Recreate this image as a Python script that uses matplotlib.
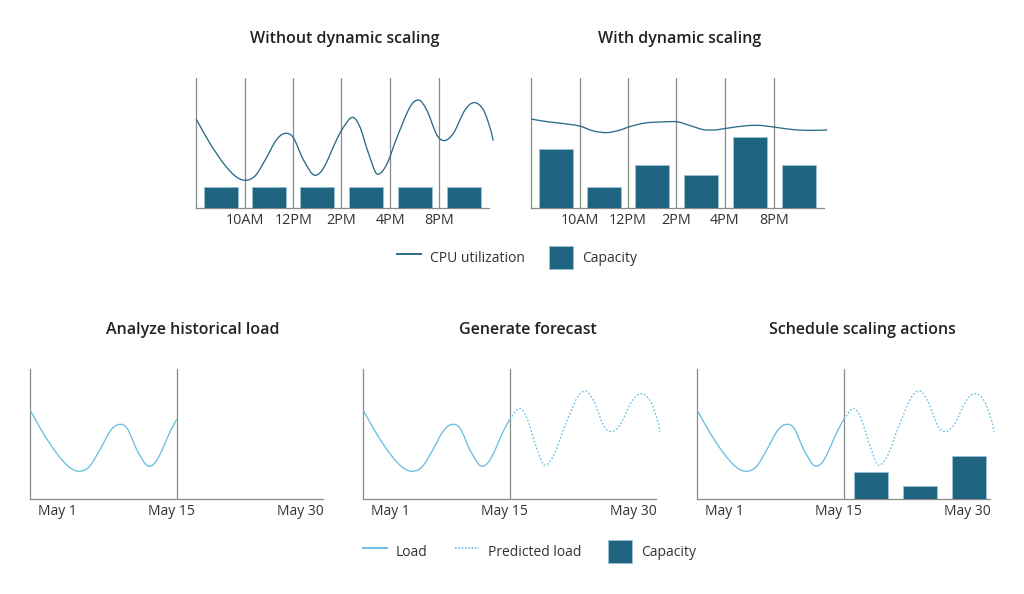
import matplotlib
matplotlib.use("Agg")
import matplotlib.pyplot as plt
from matplotlib.lines import Line2D
from matplotlib.patches import Patch, PathPatch
from matplotlib.path import Path

plt.rcParams['font.family'] = ['Open Sans', 'DejaVu Sans']

W, H = 1024, 594
NAVY = '#1f6582'
LINE_NAVY = '#2a6c88'
EDGE = '#9cc6d8'
SKY = '#6cbde2'
GRAY = '#8a8a8a'
TEXT = '#333333'

# x in time slots, y in chart units (axis height about 131)
curve_x = [0, .28, .56, .80, 1.0, 1.21, 1.42, 1.66, 1.85, 2.0, 2.21, 2.45, 2.62, 2.89, 3.02, 3.22, 3.37, 3.55,
           3.74, 3.92, 4.13, 4.41, 4.58, 4.75, 4.96, 5.11, 5.30, 5.54, 5.73, 5.92, 6.07, 6.12]
curve_y = [89, 65, 45, 32.3, 28, 32.3, 48.3, 69, 75, 70.7, 48.3, 33, 40, 68.3, 80, 91, 81.7, 55,
           34, 43.3, 70, 101.7, 108.3, 98.3, 73.3, 67.7, 75, 98.3, 105.7, 98.3, 78.3, 67.7]
flat_x = [0, .32, .67, 1.0, 1.29, 1.55, 1.8, 2.04, 2.35, 2.66, 2.97, 3.28, 3.55, 3.76, 4.03, 4.38, 4.65, 5.0,
          5.34, 5.65, 5.89, 6.11]
flat_y = [89.3, 86.7, 84.7, 82.3, 77.3, 75.7, 77.7, 81.7, 85.3, 86.3, 86.7, 82.7, 78.7, 78.3, 80, 82.3, 83, 81.3,
          79, 78, 78, 78.3]

hour_slots = [.51, 1.505, 2.495, 3.505, 4.515, 5.526]
capacity_fixed = [21, 21, 21, 21, 21, 21]
capacity_scaled = [59.7, 21, 43.3, 33.7, 71.7, 43.3]
hour_ticks = [1.01, 2.0, 2.99, 4.0, 5.01]
hour_labels = ['10AM', '12PM', '2PM', '4PM', '8PM']

day_ticks = [.56, 2.91, 5.56]
day_labels = ['May 1', 'May 15', 'May 30']
forecast_split = 3.02
sched_slots = [3.59, 4.6, 5.6]
sched_capacity = [27.7, 13.7, 43]


def smooth_path(xs, ys):
    """Bezier path through the read points (round at peaks and troughs)."""
    n = len(xs)
    slopes = []
    for i in range(n):
        a, b = max(i - 1, 0), min(i + 1, n - 1)
        s = (ys[b] - ys[a]) / (xs[b] - xs[a])
        if 0 < i < n - 1 and (ys[i] - ys[a]) * (ys[b] - ys[i]) < 0:
            s = 0
        slopes.append(s)
    verts = [(xs[0], ys[0])]
    codes = [Path.MOVETO]
    for i in range(n - 1):
        d = (xs[i + 1] - xs[i]) / 3
        verts += [(xs[i] + d, ys[i] + slopes[i] * d),
                  (xs[i + 1] - d, ys[i + 1] - slopes[i + 1] * d),
                  (xs[i + 1], ys[i + 1])]
        codes += [Path.CURVE4] * 3
    return Path(verts, codes)


def panel(x0, ybase, title, title_x, title_y, ticks, labels, h, tick_size):
    ax = fig.add_axes([x0 / W, 1 - ybase / H, 293 / W, h / H])
    ax.set_xlim(0, 293 / 48.5)
    ax.set_ylim(0, h)
    ax.patch.set_alpha(0)
    for s in ('top', 'right'):
        ax.spines[s].set_visible(False)
    for s in ('left', 'bottom'):
        ax.spines[s].set_color(GRAY)
        ax.spines[s].set_linewidth(0.9)
    ax.set_yticks([])
    ax.set_xticks(ticks, labels)
    ax.tick_params(axis='x', length=0, pad=3.2, labelsize=tick_size, labelcolor=TEXT)
    fig.text(title_x / W, 1 - title_y / H, title, ha='center', va='center',
             fontsize=11.5, fontweight=600, color='#222222')
    return ax


def bars(ax, xs, hs):
    ax.bar(xs, hs, width=0.7, color=NAVY, edgecolor=EDGE, linewidth=0.5, zorder=3)


def line(ax, xs, ys, color, **kw):
    ax.add_patch(PathPatch(smooth_path(xs, ys), facecolor='none', edgecolor=color, lw=0.95,
                           clip_on=False, zorder=4, **kw))


fig = plt.figure(figsize=(W / 100, H / 100), dpi=100)

# Top row
ax = panel(196.33, 208.3, 'Without dynamic scaling', 345, 39, hour_ticks, hour_labels, 130.5, 10.4)
for t in hour_ticks:
    ax.axvline(t, color=GRAY, lw=0.9, zorder=1)
bars(ax, hour_slots, capacity_fixed)
line(ax, curve_x, curve_y, LINE_NAVY)

ax = panel(531, 208.3, 'With dynamic scaling', 679.5, 39, hour_ticks, hour_labels, 130.5, 10.4)
for t in hour_ticks:
    ax.axvline(t, color=GRAY, lw=0.9, zorder=1)
bars(ax, hour_slots, capacity_scaled)
line(ax, flat_x, flat_y, LINE_NAVY)

# Bottom row
past = [i for i, x in enumerate(curve_x) if x <= forecast_split]
future = [i for i, x in enumerate(curve_x) if x >= forecast_split]
past_x = [curve_x[i] for i in past]
past_y = [curve_y[i] for i in past]
future_x = [curve_x[i] for i in future]
future_y = [curve_y[i] for i in future]
DOT = (0, (1.3, 1.5))

ax = panel(30.3, 499.3, 'Analyze historical load', 193, 330, day_ticks, day_labels, 130.3, 10)
ax.axvline(forecast_split, color=GRAY, lw=0.9, zorder=1)
line(ax, past_x, past_y, SKY)

ax = panel(363.3, 499.3, 'Generate forecast', 527.5, 330, day_ticks, day_labels, 130.3, 10)
ax.axvline(forecast_split, color=GRAY, lw=0.9, zorder=1)
line(ax, past_x, past_y, SKY)
line(ax, future_x, future_y, SKY, linestyle=DOT)

ax = panel(697.3, 499.3, 'Schedule scaling actions', 862, 330, day_ticks, day_labels, 130.3, 10)
ax.axvline(forecast_split, color=GRAY, lw=0.9, zorder=1)
line(ax, past_x, past_y, SKY)
line(ax, future_x, future_y, SKY, linestyle=DOT)
bars(ax, sched_slots, sched_capacity)

# Legends
cap_patch = Patch(facecolor=NAVY, edgecolor=EDGE, linewidth=0.5, label='Capacity')
leg_kw = dict(loc='center', frameon=False, fontsize=10, borderpad=0, handlelength=1.73, handleheight=2.2,
              handletextpad=0.65, labelcolor=TEXT)
fig.legend(handles=[Line2D([], [], color=LINE_NAVY, lw=1.4, label='CPU utilization'), cap_patch],
           ncol=2, columnspacing=1.72, bbox_to_anchor=(517 / W, 1 - 257.7 / H), **leg_kw)
fig.legend(handles=[Line2D([], [], color=SKY, lw=1.4, label='Load'),
                    Line2D([], [], color=SKY, lw=1.2, linestyle=(0, (1, 1)), label='Predicted load'),
                    cap_patch],
           ncol=3, columnspacing=1.95, bbox_to_anchor=(529.5 / W, 1 - 551.5 / H), **leg_kw)

fig.savefig('out.png', dpi=100)
